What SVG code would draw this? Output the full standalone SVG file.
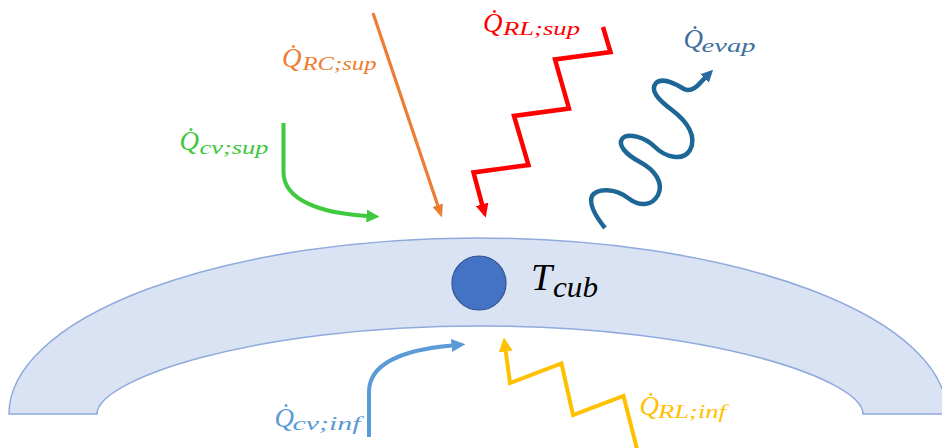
<svg xmlns="http://www.w3.org/2000/svg" width="942" height="448" viewBox="0 0 942 448">
<style>
  .lbl { font-family: "Liberation Serif", "DejaVu Serif", serif; font-style: italic; }
  .q { font-size: 27px; }
  .sub { font-size: 18px; }
  .flow { fill: none; stroke-linejoin: miter; stroke-linecap: butt; }
</style>
<defs>
  <marker id="mOrange" markerUnits="userSpaceOnUse" viewBox="0 0 13 11" markerWidth="13" markerHeight="11" refX="0.5" refY="5.5" orient="auto"><path d="M0,0 L13,5.5 L0,11 z" fill="#ed7d31"/></marker>
  <marker id="mGreen" markerUnits="userSpaceOnUse" viewBox="0 0 13 13" markerWidth="13" markerHeight="13" refX="0.5" refY="6.5" orient="auto"><path d="M0,0 L13,6.5 L0,13 z" fill="#3ec93e"/></marker>
  <marker id="mRed" markerUnits="userSpaceOnUse" viewBox="0 0 14 13" markerWidth="14" markerHeight="13" refX="0.5" refY="6.5" orient="auto"><path d="M0,0 L14,6.5 L0,13 z" fill="#ff0000"/></marker>
  <marker id="mEvap" markerUnits="userSpaceOnUse" viewBox="0 0 12 12" markerWidth="12" markerHeight="12" refX="0.5" refY="6" orient="auto"><path d="M0,0 L12,6 L0,12 z" fill="#2a6aa0"/></marker>
  <marker id="mLBlue" markerUnits="userSpaceOnUse" viewBox="0 0 14 13" markerWidth="14" markerHeight="13" refX="0.5" refY="6.5" orient="auto"><path d="M0,0 L14,6.5 L0,13 z" fill="#5b9bd5"/></marker>
  <marker id="mYellow" markerUnits="userSpaceOnUse" viewBox="0 0 14 14" markerWidth="14" markerHeight="14" refX="0.5" refY="7" orient="auto"><path d="M0,0 L14,7 L0,14 z" fill="#ffc000"/></marker>
</defs>
<rect width="942" height="448" fill="#ffffff"/>

<g id="roof">
  <path d="M9,414 A469,176 0 0 1 947,414 L863,414 C863,380 710,326 480,326 C250,326 97,380 97,414 Z" fill="#dae3f3" stroke="#8faadc" stroke-width="1.5"/>
</g>

<g id="node-Tcub">
  <circle cx="479" cy="283" r="27" fill="#4472c4" stroke="#2f528f" stroke-width="1.2"/>
  <text class="lbl" x="531" y="290" font-size="38" fill="#000000">T</text>
  <text class="lbl" x="553" y="297" font-size="29" fill="#000000" textLength="45" lengthAdjust="spacingAndGlyphs">cub</text>
</g>

<g id="connectors">
  <path id="flow-RC-sup" class="flow" d="M373,13 L437.9,205.7" stroke="#ed7d31" stroke-width="3.2" marker-end="url(#mOrange)"/>
  <path id="flow-cv-sup" class="flow" d="M283.5,123 L283.5,172 C283.5,200 320,213 367,216" stroke="#3ec93e" stroke-width="4" marker-end="url(#mGreen)"/>
  <path id="flow-RL-sup" class="flow" d="M603,27 L610.5,52 L555,59.5 L569,108.5 L514,116 L528.5,165 L473.5,172.5 L482.2,204.8" stroke="#ff0000" stroke-width="4.5" marker-end="url(#mRed)"/>
  <path id="flow-evap" class="flow" d="M605,228 C597,218 588,205 592,196 C597,188 615,188 628,198 C640,207 652,206 658,195 C664,183 655,170 640,162 C625,154 618,145 622,139 C627,132 645,137 655,147 C665,157 683,162 690,150 C697,137 688,122 672,110 C657,99 650,90 656,83 C662,77 676,84 684,89 C690,92 696,88 701,82 L705,78" stroke="#1d6797" stroke-width="4.5" stroke-linecap="round" marker-end="url(#mEvap)"/>
  <path id="flow-cv-inf" class="flow" d="M369,437 L369,392 C369,365 400,350 452,345.5" stroke="#5b9bd5" stroke-width="4" marker-end="url(#mLBlue)"/>
  <path id="flow-RL-inf" class="flow" d="M637,449 L623.5,396 L573,415 L561.5,363.5 L510,383 L505.7,351" stroke="#ffc000" stroke-width="4" marker-end="url(#mYellow)"/>
</g>

<g id="label-RC-sup" class="lbl" fill="#ed7d31">
  <text class="q" x="282" y="67">Q&#x307;</text>
  <text class="sub" x="302.5" y="70" textLength="74" lengthAdjust="spacingAndGlyphs">RC;sup</text>
</g>
<g id="label-RL-sup" class="lbl" fill="#ff0000">
  <text class="q" x="483" y="32">Q&#x307;</text>
  <text class="sub" x="503" y="35" textLength="77" lengthAdjust="spacingAndGlyphs">RL;sup</text>
</g>
<g id="label-evap" class="lbl" fill="#41709e">
  <text class="q" x="683.5" y="48.3">Q&#x307;</text>
  <text class="sub" x="701.5" y="51.5" textLength="54" lengthAdjust="spacingAndGlyphs">evap</text>
</g>
<g id="label-cv-sup" class="lbl" fill="#3ec93e">
  <text class="q" x="179.5" y="150">Q&#x307;</text>
  <text class="sub" x="199.5" y="153.5" textLength="69" lengthAdjust="spacingAndGlyphs">cv;sup</text>
</g>
<g id="label-cv-inf" class="lbl" fill="#5b9bd5">
  <text class="q" x="274.5" y="426.7">Q&#x307;</text>
  <text class="sub" x="292.5" y="430" textLength="68" lengthAdjust="spacingAndGlyphs">cv;inf</text>
</g>
<g id="label-RL-inf" class="lbl" fill="#ffc000">
  <text class="q" x="639.5" y="415">Q&#x307;</text>
  <text class="sub" x="658" y="418" textLength="68" lengthAdjust="spacingAndGlyphs">RL;inf</text>
</g>
</svg>
